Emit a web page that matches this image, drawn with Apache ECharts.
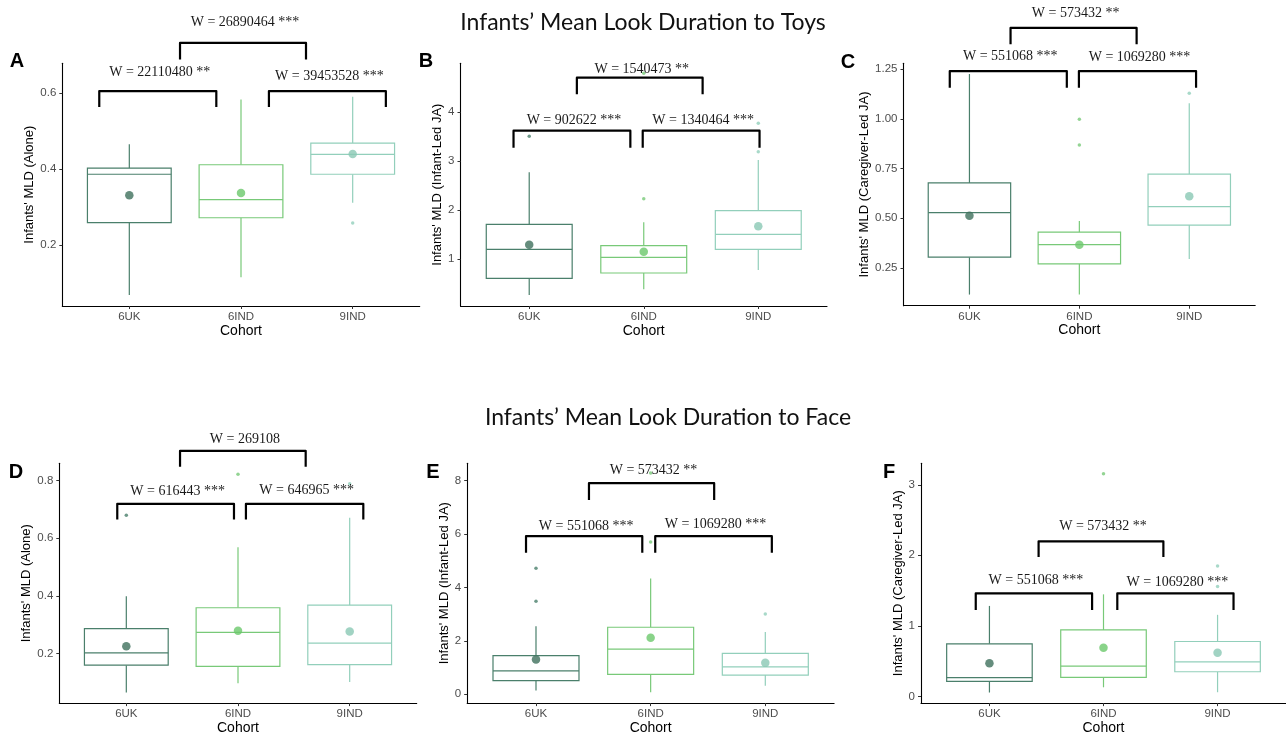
<!DOCTYPE html>
<html><head><meta charset="utf-8">
<script src="https://cdn.jsdelivr.net/npm/echarts@6/dist/echarts.min.js"></script>
<style>html,body{margin:0;padding:0;background:#fff}#c{width:1286px;height:736px}</style>
</head><body><div id="c"></div>
<script>
// ---------- DATA ----------
const cohorts = ['6UK', '6IND', '9IND'];
const cohortPos = [1, 2, 3];

// box stats per cohort: [min, Q1, median, Q3, max]
const boxA = [[0.069, 0.2595, 0.387, 0.403, 0.466], [0.116, 0.2726, 0.320, 0.412, 0.584], [0.312, 0.387, 0.4395, 0.469, 0.591]];
const meanA = [0.332, 0.3376, 0.440];
const outA = [[3, 0.259]];
const ticksA = ['0.2', '0.4', '0.6'];
// brackets: [xStart, xEnd, yBar, yLegEnd, yText, label]
const bracketA = [[0.731, 1.779, 0.606, 0.564, 0.654, 'W = 22110480 **'], [2.25, 3.297, 0.606, 0.564, 0.6455, 'W = 39453528 ***'], [1.454, 2.582, 0.733, 0.689, 0.788, 'W = 26890464 ***']];

const boxB = [[0.265, 0.606, 1.198, 1.708, 2.769], [0.381, 0.714, 1.035, 1.272, 1.75], [0.776, 1.198, 1.504, 1.986, 3.02]];
const meanB = [1.29, 1.15, 1.667];
const outB = [[1, 3.504], [2, 2.23], [2, 4.79], [3, 3.19], [3, 3.77]];
const ticksB = ['1', '2', '3', '4'];
const bracketB = [[0.863, 1.883, 3.62, 3.27, 3.837, 'W = 902622 ***'], [1.991, 3.011, 3.62, 3.27, 3.823, 'W = 1340464 ***'], [1.416, 2.514, 4.70, 4.36, 4.878, 'W = 1540473 **']];

const boxC = [[0.116, 0.304, 0.528, 0.678, 1.226], [0.116, 0.271, 0.367, 0.430, 0.486], [0.295, 0.466, 0.559, 0.722, 1.079]];
const meanC = [0.513, 0.367, 0.611];
const outC = [[2, 0.998], [2, 0.869], [3, 1.129]];
const ticksC = ['0.25', '0.50', '0.75', '1.00', '1.25'];
const bracketC = [[0.821, 1.886, 1.241, 1.157, 1.317, 'W = 551068 ***'], [1.996, 3.062, 1.241, 1.157, 1.308, 'W = 1069280 ***'], [1.374, 2.521, 1.458, 1.376, 1.532, 'W = 573432 **']];

const boxD = [[0.0653, 0.160, 0.2025, 0.287, 0.399], [0.097, 0.1556, 0.2734, 0.359, 0.569], [0.102, 0.162, 0.2367, 0.368, 0.671]];
const meanD = [0.2254, 0.279, 0.2767];
const outD = [[1, 0.68], [2, 0.822], [3, 0.789]];
const ticksD = ['0.2', '0.4', '0.6', '0.8'];
const bracketD = [[0.919, 1.964, 0.719, 0.665, 0.761, 'W = 616443 ***'], [2.071, 3.122, 0.719, 0.665, 0.766, 'W = 646965 ***'], [1.481, 2.606, 0.903, 0.848, 0.942, 'W = 269108']];

const boxE = [[0.136, 0.506, 0.877, 1.444, 2.54], [0.074, 0.741, 1.691, 2.506, 4.333], [0.32, 0.716, 1.025, 1.53, 2.333]];
const meanE = [1.296, 2.11, 1.173];
const outE = [[1, 4.716], [1, 3.48], [2, 5.70], [2, 8.28], [3, 3.0]];
const ticksE = ['0', '2', '4', '6', '8'];
const bracketE = [[0.913, 1.927, 5.915, 5.296, 6.285, 'W = 551068 ***'], [2.040, 3.057, 5.915, 5.296, 6.344, 'W = 1069280 ***'], [1.462, 2.554, 7.9, 7.27, 8.37, 'W = 573432 **']];

const boxF = [[0.056, 0.214, 0.266, 0.746, 1.283], [0.13, 0.27, 0.429, 0.943, 1.447], [0.06, 0.35, 0.49, 0.779, 1.157]];
const meanF = [0.471, 0.69, 0.62];
const outF = [[2, 3.155], [3, 1.849], [3, 1.559]];
const ticksF = ['0', '1', '2', '3'];
const bracketF = [[0.880, 1.900, 1.461, 1.227, 1.651, 'W = 551068 ***'], [2.121, 3.140, 1.461, 1.227, 1.615, 'W = 1069280 ***'], [1.431, 2.525, 2.199, 1.975, 2.409, 'W = 573432 **']];

const yTitles = ["Infants' MLD (Alone)", "Infants' MLD (Infant-Led JA)", "Infants' MLD (Caregiver-Led JA)",
                 "Infants' MLD (Alone)", "Infants' MLD (Infant-Led JA)", "Infants' MLD (Caregiver-Led JA)"];
const panelLetters = ['A', 'B', 'C', 'D', 'E', 'F'];
const sectionTitles = ['Infants\u2019 Mean Look Duration to Toys', 'Infants\u2019 Mean Look Duration to Face'];
const xTitle = 'Cohort';

// ---------- STYLE / LAYOUT ----------
const lineColors = ['#4a7f6b', '#78c978', '#92cfbb'];
const meanColors = ['#3f705c', '#6cc86c', '#8ac8b4'];
const panels = [
  { box: boxA, mean: meanA, out: outA, ticks: ticksA, br: bracketA, yMin: 0.0403, yMax: 0.679, grid: { left: 62.3, top: 63.3, width: 357.4, height: 242.7 }, nameGap: 22 },
  { box: boxB, mean: meanB, out: outB, ticks: ticksB, br: bracketB, yMin: 0.041, yMax: 4.994, grid: { left: 460.5, top: 63.3, width: 366.5, height: 242.7 }, nameGap: 13.5 },
  { box: boxC, mean: meanC, out: outC, ticks: ticksC, br: bracketC, yMin: 0.060, yMax: 1.280, grid: { left: 903.5, top: 63.3, width: 351.7, height: 242.4 }, nameGap: 28.5 },
  { box: boxD, mean: meanD, out: outD, ticks: ticksD, br: bracketD, yMin: 0.0286, yMax: 0.8596, grid: { left: 59.3, top: 463.3, width: 357.4, height: 242.4 }, nameGap: 22.5 },
  { box: boxE, mean: meanE, out: outE, ticks: ticksE, br: bracketE, yMin: -0.333, yMax: 8.644, grid: { left: 467.2, top: 463.3, width: 366.9, height: 242.7 }, nameGap: 13.3 },
  { box: boxF, mean: meanF, out: outF, ticks: ticksF, br: bracketF, yMin: -0.094, yMax: 3.304, grid: { left: 921, top: 463.3, width: 366.4, height: 242.7 }, nameGap: 12 }
];
const letterPos = [[17, 61], [426, 61], [848, 62], [16, 472], [433, 472], [889, 472]];

const SANS = '"Liberation Sans", Arial, sans-serif';
const SERIF = '"Liberation Serif", "Times New Roman", serif';

const grids = [], xAxes = [], yAxes = [], series = [];
panels.forEach((p, i) => {
  grids.push(Object.assign({ containLabel: false }, p.grid));
  xAxes.push({
    gridIndex: i, type: 'value', min: 0.4, max: 3.6,
    name: xTitle, nameLocation: 'middle', nameGap: 16.5,
    nameTextStyle: { fontFamily: SANS, fontSize: 14, color: '#000' },
    axisLine: { show: true, onZero: false, lineStyle: { color: '#000', width: 1.1 } },
    axisTick: { show: true, length: 3, customValues: cohortPos, lineStyle: { color: '#333' } },
    axisLabel: { customValues: cohortPos, formatter: v => cohorts[Math.round(v) - 1], fontFamily: SANS, fontSize: 11.5, color: '#4d4d4d', margin: 5 },
    splitLine: { show: false }
  });
  const tv = p.ticks.map(Number);
  yAxes.push({
    gridIndex: i, type: 'value', min: p.yMin, max: p.yMax,
    name: yTitles[i], nameLocation: 'middle', nameGap: p.nameGap,
    nameTextStyle: { fontFamily: SANS, fontSize: 13, color: '#000' },
    axisLine: { show: true, onZero: false, lineStyle: { color: '#000', width: 1.1 } },
    axisTick: { show: true, length: 3, customValues: tv, lineStyle: { color: '#333' } },
    axisLabel: {
      customValues: tv, fontFamily: SANS, fontSize: 11.5, color: '#4d4d4d', margin: 6,
      formatter: v => { const k = tv.findIndex(t => Math.abs(t - v) < 1e-9); return k >= 0 ? p.ticks[k] : ''; }
    },
    splitLine: { show: false }
  });
  // boxes (ggplot-style: no whisker caps)
  series.push({
    type: 'custom', xAxisIndex: i, yAxisIndex: i, clip: false, silent: true,
    encode: { x: 0, y: [1, 2, 3, 4, 5] },
    data: p.box.map((b, k) => [cohortPos[k]].concat(b)),
    renderItem: (params, api) => {
      const x = api.value(0);
      const lo = api.coord([x, api.value(1)]);
      const q1 = api.coord([x, api.value(2)]);
      const md = api.coord([x, api.value(3)]);
      const q3 = api.coord([x, api.value(4)]);
      const hi = api.coord([x, api.value(5)]);
      const w = api.size([0.75, 0])[0];
      const c = lineColors[params.dataIndex];
      const st = { stroke: c, lineWidth: 1.2, fill: null };
      return {
        type: 'group', children: [
          { type: 'line', shape: { x1: hi[0], y1: hi[1], x2: q3[0], y2: q3[1] }, style: st },
          { type: 'line', shape: { x1: q1[0], y1: q1[1], x2: lo[0], y2: lo[1] }, style: st },
          { type: 'rect', shape: { x: q3[0] - w / 2, y: q3[1], width: w, height: q1[1] - q3[1] }, style: { stroke: c, lineWidth: 1.2, fill: '#fff' } },
          { type: 'line', shape: { x1: md[0] - w / 2, y1: md[1], x2: md[0] + w / 2, y2: md[1] }, style: st }
        ]
      };
    }
  });
  // outliers
  series.push({
    type: 'scatter', xAxisIndex: i, yAxisIndex: i, symbolSize: 3.5, silent: true,
    data: p.out.map(o => ({ value: [o[0], o[1]], itemStyle: { color: lineColors[o[0] - 1] } }))
  });
  // means
  series.push({
    type: 'scatter', xAxisIndex: i, yAxisIndex: i, symbolSize: 8.5, silent: true, z: 3,
    data: p.mean.map((m, k) => ({ value: [cohortPos[k], m], itemStyle: { color: meanColors[k] } }))
  });
  // significance brackets
  series.push({
    type: 'custom', xAxisIndex: i, yAxisIndex: i, clip: false, silent: true, z: 4,
    encode: { x: [0, 1], y: [2, 3, 4] },
    data: p.br.map(b => b.slice(0, 5)),
    renderItem: (params, api) => {
      const x1 = api.value(0), x2 = api.value(1), y = api.value(2), yl = api.value(3), ty = api.value(4);
      const a = api.coord([x1, yl]), b = api.coord([x1, y]), c = api.coord([x2, y]), d = api.coord([x2, yl]);
      const t = api.coord([(x1 + x2) / 2, ty]);
      return {
        type: 'group', children: [
          { type: 'polyline', shape: { points: [a, b, c, d] }, style: { stroke: '#000', lineWidth: 2.2, fill: null, lineJoin: 'round' } },
          { type: 'text', x: t[0] + 2, y: t[1], style: { text: p.br[params.dataIndex][5], font: '14px ' + SERIF, fill: '#1a1a1a', align: 'center', verticalAlign: 'middle' } }
        ]
      };
    }
  });
});

const graphics = [
  { type: 'text', x: 643, y: 23, style: { text: sectionTitles[0], font: '23px Lato, "Open Sans", sans-serif', fill: '#111', align: 'center', verticalAlign: 'middle' } },
  { type: 'text', x: 668, y: 418, style: { text: sectionTitles[1], font: '23px Lato, "Open Sans", sans-serif', fill: '#111', align: 'center', verticalAlign: 'middle' } }
];
panelLetters.forEach((L, i) => {
  graphics.push({ type: 'text', x: letterPos[i][0], y: letterPos[i][1], style: { text: L, font: 'bold 20px ' + SANS, fill: '#000', align: 'center', verticalAlign: 'middle' } });
});

const chart = echarts.init(document.getElementById('c'), null, { renderer: 'canvas' });
chart.setOption({
  animation: false,
  backgroundColor: '#fff',
  grid: grids, xAxis: xAxes, yAxis: yAxes, series: series,
  graphic: graphics
});
</script></body></html>
